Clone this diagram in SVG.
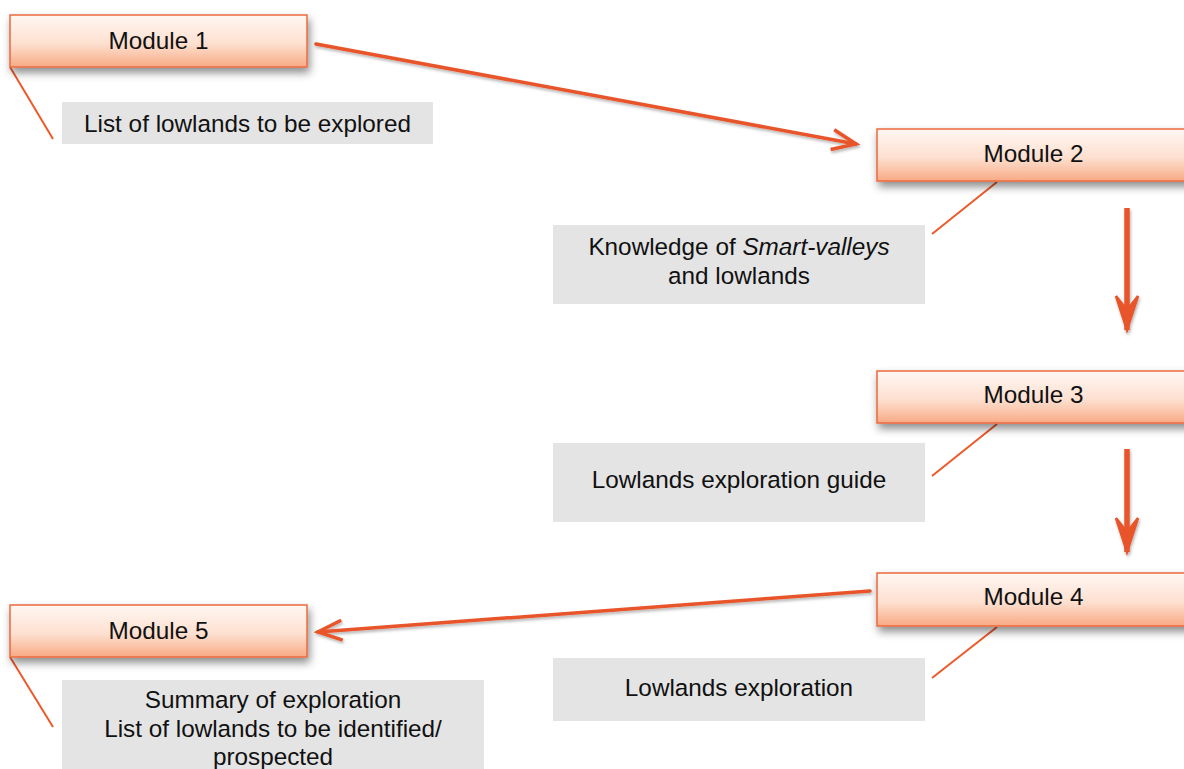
<svg xmlns="http://www.w3.org/2000/svg" width="1184" height="769" viewBox="0 0 1184 769">
<style>
.mod{fill:url(#modGrad);stroke:#ec6a3c;stroke-width:1.5;filter:url(#shadow)}
.note{fill:#e4e4e4}
.t{font-family:"Liberation Sans",Arial,sans-serif;font-size:24.3px;fill:#111;text-anchor:middle}
.call{stroke:#ec5a2a;stroke-width:2;fill:none}
.arr{stroke:#e9542a;stroke-width:3.5;fill:none;stroke-linecap:round}
.varr{stroke:#e9542a;stroke-width:5.5;fill:none}
</style>
<defs>
<linearGradient id="modGrad" x1="0" y1="0" x2="0" y2="1">
<stop offset="0" stop-color="#fff7f3"/>
<stop offset="0.55" stop-color="#fde0d0"/>
<stop offset="1" stop-color="#f8aa85"/>
</linearGradient>
<filter id="shadow" x="-10%" y="-30%" width="125%" height="180%">
<feDropShadow dx="2" dy="5" stdDeviation="4" flood-color="#000" flood-opacity="0.45"/>
</filter>
<filter id="lshadow" filterUnits="userSpaceOnUse" x="0" y="0" width="1184" height="769">
<feDropShadow dx="1" dy="2" stdDeviation="1.5" flood-color="#000" flood-opacity="0.3"/>
</filter>
<marker id="head" markerUnits="userSpaceOnUse" viewBox="-30 -15 34 30" refX="0" refY="0" markerWidth="34" markerHeight="30" orient="auto">
<path d="M-24,-10 L0,0 L-24,10" fill="none" stroke="#e9542a" stroke-width="3.5" stroke-linejoin="miter"/>
</marker>
<marker id="vhead" markerUnits="userSpaceOnUse" viewBox="-40 -20 44 40" refX="0" refY="0" markerWidth="44" markerHeight="40" orient="auto">
<path d="M-34,-11 L0,0 L-34,11 L-20,0 Z" fill="#e9542a" stroke="#e9542a" stroke-width="2.5" stroke-linejoin="miter"/>
</marker>
</defs>
<rect width="1184" height="769" fill="#fff"/>

<g id="connectors">
<g filter="url(#lshadow)">
<line class="arr" x1="316" y1="44" x2="856" y2="144" marker-end="url(#head)"/>
<line class="varr" x1="1127" y1="208" x2="1127" y2="330" marker-end="url(#vhead)"/>
<line class="varr" x1="1127" y1="449" x2="1127" y2="552" marker-end="url(#vhead)"/>
<line class="arr" x1="870" y1="591" x2="318" y2="632" marker-end="url(#head)"/>
</g>
<line class="call" x1="10" y1="67" x2="53" y2="139"/>
<line class="call" x1="997" y1="182" x2="932" y2="234"/>
<line class="call" x1="997" y1="424" x2="932" y2="476"/>
<line class="call" x1="997" y1="627" x2="932" y2="678"/>
<line class="call" x1="10" y1="657" x2="53" y2="727"/>
</g>

<g id="module1">
<rect class="mod" x="10" y="15" width="297" height="52"/>
<text class="t" x="158.5" y="49">Module 1</text>
</g>
<g id="note1">
<rect class="note" x="62" y="102" width="371" height="42"/>
<text class="t" x="247.5" y="132">List of lowlands to be explored</text>
</g>

<g id="module2">
<rect class="mod" x="877" y="129" width="313" height="52"/>
<text class="t" x="1033.5" y="162">Module 2</text>
</g>
<g id="note2">
<rect class="note" x="553" y="225" width="372" height="79"/>
<text class="t" x="739" y="255">Knowledge of <tspan font-style="italic">Smart-valleys</tspan></text>
<text class="t" x="739" y="284">and lowlands</text>
</g>

<g id="module3">
<rect class="mod" x="877" y="371" width="313" height="52"/>
<text class="t" x="1033.5" y="403">Module 3</text>
</g>
<g id="note3">
<rect class="note" x="553" y="443" width="372" height="79"/>
<text class="t" x="739" y="488">Lowlands exploration guide</text>
</g>

<g id="module4">
<rect class="mod" x="877" y="573" width="313" height="53"/>
<text class="t" x="1033.5" y="605">Module 4</text>
</g>
<g id="note4">
<rect class="note" x="553" y="658" width="372" height="63"/>
<text class="t" x="739" y="696">Lowlands exploration</text>
</g>

<g id="module5">
<rect class="mod" x="10" y="605" width="297" height="52"/>
<text class="t" x="158.5" y="639">Module 5</text>
</g>
<g id="note5">
<rect class="note" x="62" y="680" width="422" height="89"/>
<text class="t" x="273" y="708">Summary of exploration</text>
<text class="t" x="273" y="737">List of lowlands to be identified/</text>
<text class="t" x="273" y="765">prospected</text>
</g>
</svg>
